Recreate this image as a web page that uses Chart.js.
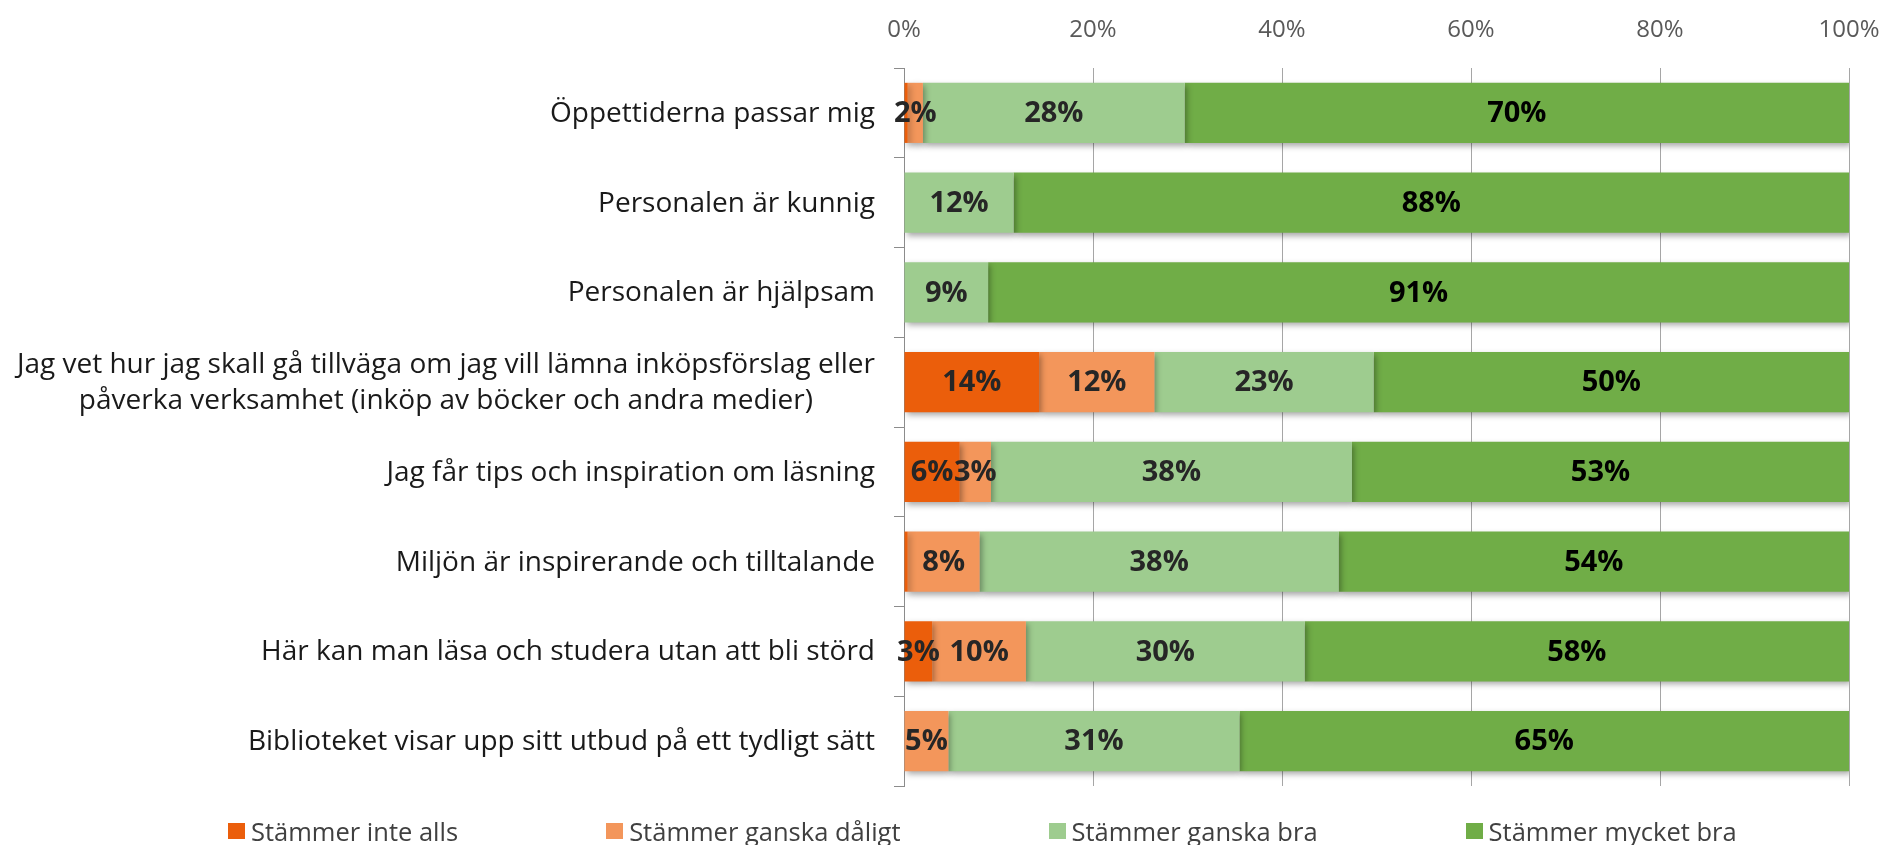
<!DOCTYPE html>
<html><head><meta charset="utf-8">
<script src="https://cdn.jsdelivr.net/npm/chart.js@4.4.1/dist/chart.umd.min.js"></script>
<style>
html,body{margin:0;padding:0;background:#fff;}
#wrap{position:relative;width:1888px;height:845px;overflow:hidden;}
#c{display:block;}
#legend{position:absolute;left:228px;top:817px;display:flex;gap:148px;font-family:"Open Sans",sans-serif;font-size:25.5px;color:#404040;line-height:28px;}
.item{display:flex;align-items:center;white-space:nowrap;}
.box{width:17px;height:16px;margin-right:6px;}
</style></head>
<body><div id="wrap"><canvas id="c" width="1888" height="845"></canvas><div id="legend"></div></div>
<script>
const categories = [
  'Öppettiderna passar mig',
  'Personalen är kunnig',
  'Personalen är hjälpsam',
  ['Jag vet hur jag skall gå tillväga om jag vill lämna inköpsförslag eller', 'påverka verksamhet (inköp av böcker och andra medier)'],
  'Jag får tips och inspiration om läsning',
  'Miljön är inspirerande och tilltalande',
  'Här kan man läsa och studera utan att bli störd',
  'Biblioteket visar upp sitt utbud på ett tydligt sätt'
];
const seriesNames = ['Stämmer inte alls', 'Stämmer ganska dåligt', 'Stämmer ganska bra', 'Stämmer mycket bra'];
const inteAlls     = [0.4, 0,    0,    14.3, 5.9,  0.4,  3.0,  0];
const ganskaDaligt = [1.6, 0,    0,    12.2, 3.3,  7.6,  9.9,  4.7];
const ganskaBra    = [27.7, 11.6, 8.9, 23.2, 38.2, 38.0, 29.5, 30.8];
const mycketBra    = [70.3, 88.4, 91.1, 50.3, 52.6, 54.0, 57.6, 64.5];
const xTicks = [0, 20, 40, 60, 80, 100];

const colors = ['#EB5E0B', '#F3965B', '#9ECC8F', '#70AD47'];
const labelColors = ['#262626', '#262626', '#262626', '#000000'];
const seriesValues = [inteAlls, ganskaDaligt, ganskaBra, mycketBra];

const legend = document.getElementById('legend');
seriesNames.forEach((n, i) => {
  const it = document.createElement('div'); it.className = 'item';
  const b = document.createElement('div'); b.className = 'box'; b.style.background = colors[i];
  const t = document.createElement('span'); t.textContent = n;
  it.appendChild(b); it.appendChild(t); legend.appendChild(it);
});

const shadowPlugin = {
  id: 'shadow',
  beforeDatasetsDraw(chart) {
    const ctx = chart.ctx; ctx.save();
    ctx.shadowColor = 'rgba(0,0,0,0.35)'; ctx.shadowBlur = 6; ctx.shadowOffsetX = 2; ctx.shadowOffsetY = 3;
  },
  afterDatasetsDraw(chart) { chart.ctx.restore(); }
};
const labelPlugin = {
  id: 'vals',
  afterDatasetsDraw(chart) {
    const ctx = chart.ctx; ctx.save();
    ctx.font = 'bold 29px "Open Sans", sans-serif';
    ctx.textAlign = 'center'; ctx.textBaseline = 'middle';
    chart.data.datasets.forEach((ds, di) => {
      const meta = chart.getDatasetMeta(di);
      meta.data.forEach((el, i) => {
        const v = ds.data[i];
        if (v < 1) return;
        ctx.fillStyle = labelColors[di];
        ctx.fillText(Math.round(v) + '%', (el.x + el.base) / 2, el.y + 1);
      });
    });
    ctx.restore();
  }
};
const catPlugin = {
  id: 'cats',
  afterDraw(chart) {
    const ctx = chart.ctx, ys = chart.scales.y; ctx.save();
    ctx.font = '28px "Open Sans", sans-serif'; ctx.fillStyle = '#1a1a1a';
    ctx.textAlign = 'center'; ctx.textBaseline = 'middle';
    const right = 875, lh = 36;
    categories.forEach((c, i) => {
      const lines = Array.isArray(c) ? c : [c];
      const w = Math.max(...lines.map(l => ctx.measureText(l).width));
      const cx = right - w / 2, y = ys.getPixelForTick(i);
      lines.forEach((l, k) => ctx.fillText(l, cx, y + (k - (lines.length - 1) / 2) * lh + 1));
    });
    ctx.restore();
  }
};

new Chart(document.getElementById('c'), {
  type: 'bar',
  data: {
    labels: categories,
    datasets: seriesNames.map((n, i) => ({
      label: n, data: seriesValues[i], backgroundColor: colors[i], borderWidth: 0,
      categoryPercentage: 0.67, barPercentage: 1
    }))
  },
  options: {
    indexAxis: 'y', responsive: false, animation: false,
    layout: { padding: { top: 0, right: 0, bottom: 59, left: 0 } },
    plugins: { legend: { display: false }, tooltip: { enabled: false } },
    scales: {
      x: {
        position: 'top', stacked: true, min: 0, max: 100,
        afterBuildTicks(s) { s.ticks = xTicks.map(v => ({ value: v })); },
        afterFit(s) { s.height = 68; s.paddingRight = 39; s.paddingLeft = 0; },
        grid: { color: '#a6a6a6', lineWidth: 1, drawTicks: false },
        border: { display: false },
        ticks: { padding: 23, color: '#595959', font: { family: 'Open Sans', size: 24 }, callback: v => v + '%' }
      },
      y: {
        stacked: true,
        afterFit(s) { s.width = 904; },
        grid: { drawOnChartArea: false, drawTicks: true, tickLength: 10, color: '#8c8c8c', offset: true },
        border: { display: true, color: '#8c8c8c', width: 1 },
        ticks: { display: false }
      }
    }
  },
  plugins: [shadowPlugin, labelPlugin, catPlugin]
});
</script></body></html>
